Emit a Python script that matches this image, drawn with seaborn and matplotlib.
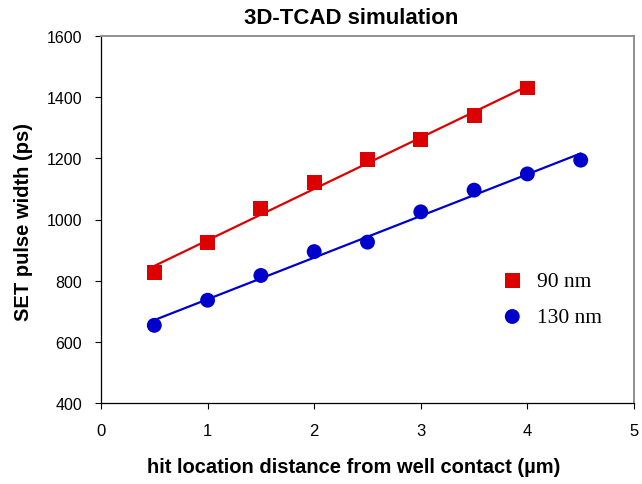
import matplotlib
matplotlib.use("Agg")
import matplotlib.pyplot as plt
import seaborn as sns
import pandas as pd

# hit locations (um) and SET pulse widths (ps) for each technology node
x_90 = [0.5, 1.0, 1.5, 2.0, 2.5, 3.0, 3.5, 4.0]
y_90 = [828, 924, 1035, 1120, 1196, 1263, 1340, 1430]
x_130 = [0.5, 1.0, 1.5, 2.0, 2.5, 3.0, 3.5, 4.0, 4.5]
y_130 = [654, 736, 817, 895, 926, 1025, 1096, 1149, 1194]

x_ticks = [0, 1, 2, 3, 4, 5]
y_ticks = [400, 600, 800, 1000, 1200, 1400, 1600]

RED = "#DD0000"
BLUE = "#0000CC"

sns.set_theme(style="white")
plt.rcParams["font.family"] = ["Liberation Sans", "DejaVu Sans"]
plt.rcParams["text.color"] = "black"

df90 = pd.DataFrame({"x": x_90, "y": y_90})
df130 = pd.DataFrame({"x": x_130, "y": y_130})

fig = plt.figure(figsize=(6.42, 4.85), dpi=100)
ax = fig.add_axes([101 / 642, 1 - 404 / 485, (634 - 101) / 642, (404 - 37) / 485])

sns.regplot(data=df90, x="x", y="y", ax=ax, ci=None, marker="s", label="90 nm",
            scatter_kws=dict(s=115, color=RED, edgecolors="none", alpha=1, zorder=3),
            line_kws=dict(color=RED, lw=1.6, zorder=2))
sns.regplot(data=df130, x="x", y="y", ax=ax, ci=None, marker="o", label="130 nm",
            scatter_kws=dict(s=115, color=BLUE, edgecolors="none", alpha=1, zorder=3),
            line_kws=dict(color=BLUE, lw=1.6, zorder=2))

ax.set_xlim(x_ticks[0], x_ticks[-1])
ax.set_ylim(y_ticks[0], y_ticks[-1])
ax.set_xticks(x_ticks)
ax.set_yticks(y_ticks)
ax.tick_params(axis="both", direction="out", length=4.5, width=0.8, color="black",
               labelsize=11.5, labelcolor="black")
ax.tick_params(axis="x", pad=10, bottom=True, labelsize=12)
ax.tick_params(axis="y", pad=9, left=True)

for side in ("left", "bottom"):
    ax.spines[side].set_color("black")
    ax.spines[side].set_linewidth(0.9)
for side in ("top", "right"):
    ax.spines[side].set_color("#909090")
    ax.spines[side].set_linewidth(1.4)

ax.set_xlabel("")
ax.set_ylabel("")
fig.text(354 / 642, 1 - 468 / 485, "hit location distance from well contact (µm)",
         ha="center", va="center", fontsize=14.5, fontweight="bold", color="black")
fig.text(24 / 642, 1 - 222 / 485, "SET pulse width (ps)", rotation=90,
         ha="center", va="center", fontsize=14.5, fontweight="bold", color="black")
fig.text(351 / 642, 1 - 18 / 485, "3D-TCAD simulation",
         ha="center", va="center", fontsize=16, fontweight="bold", color="black")

leg = ax.legend(loc="center left", bbox_to_anchor=(480 / 642, 1 - 300 / 485),
                bbox_transform=fig.transFigure, frameon=False,
                prop=dict(family="Liberation Serif", size=15.5),
                handletextpad=0.55, labelspacing=0.75, markerscale=1.0,
                handlelength=1.2)
for t in leg.get_texts():
    t.set_color("black")

fig.savefig("out.png", dpi=100)
